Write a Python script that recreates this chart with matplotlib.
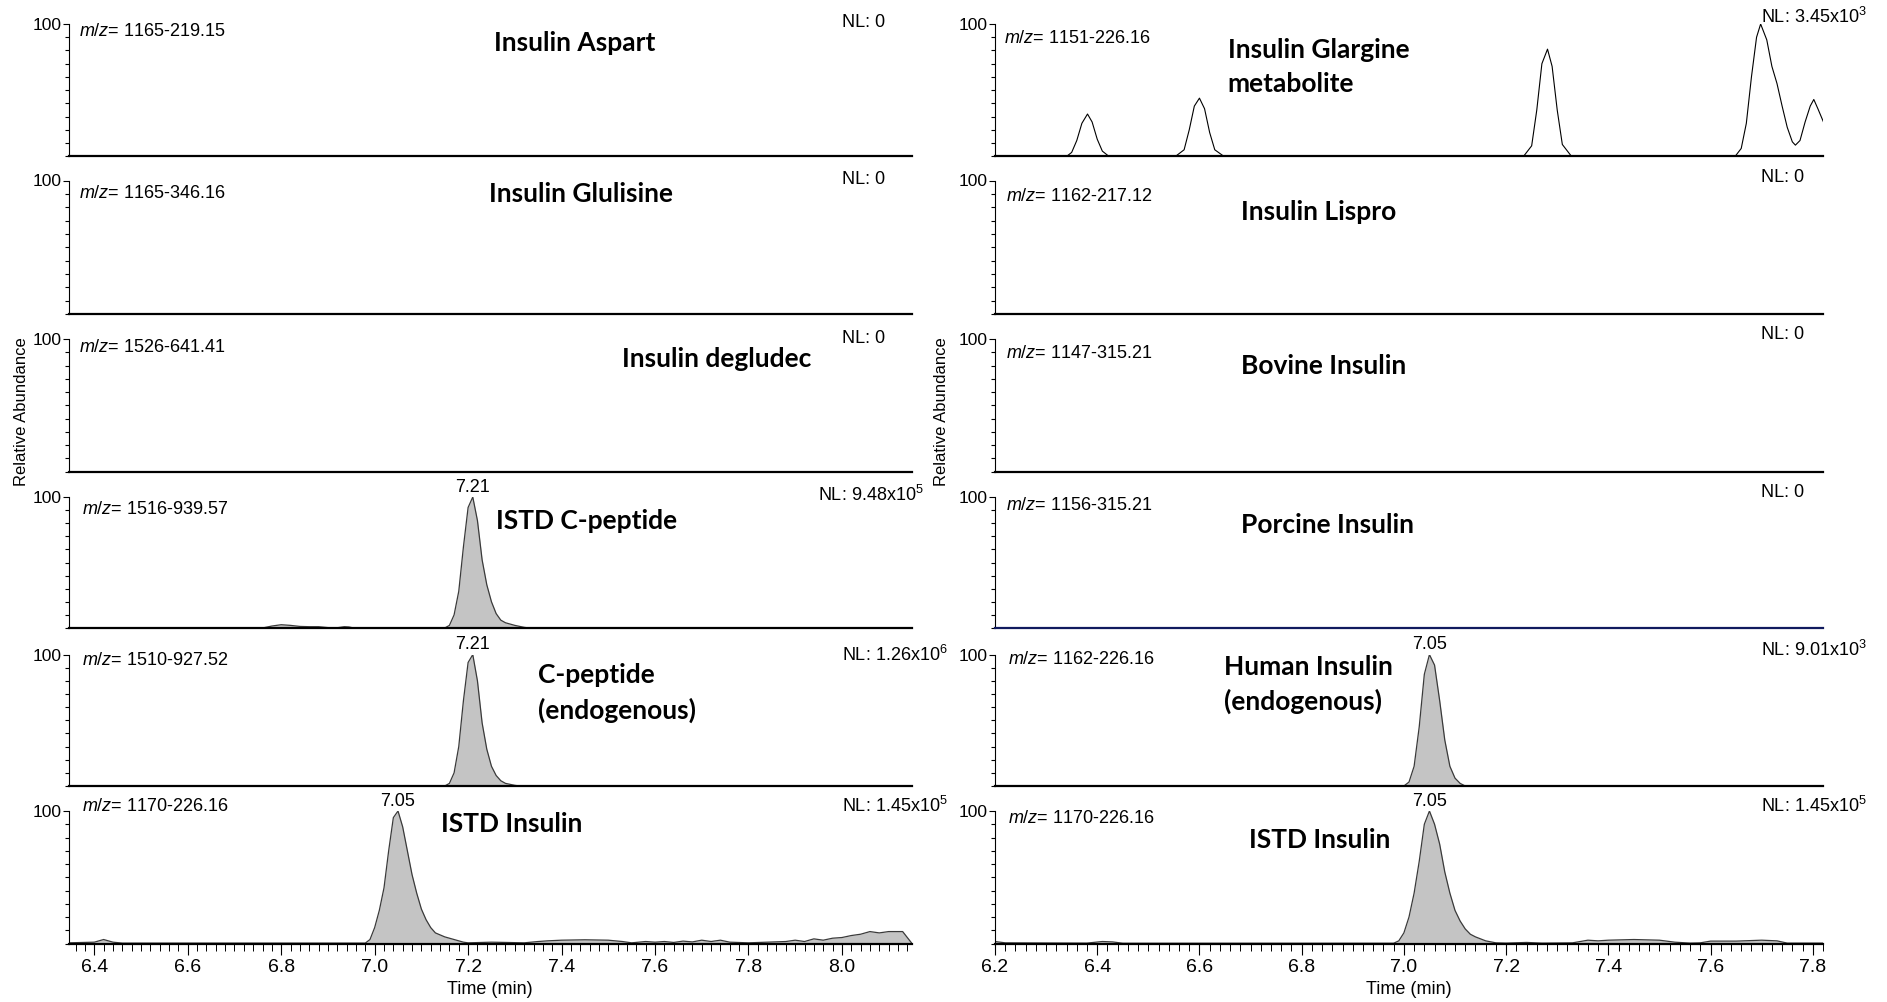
import matplotlib
matplotlib.use("Agg")
import matplotlib.pyplot as plt
from matplotlib.ticker import MultipleLocator, FormatStrFormatter, FixedLocator
from matplotlib import font_manager

names = {f.name for f in font_manager.fontManager.ttflist}
NARROW = 'Liberation Sans Narrow' if 'Liberation Sans Narrow' in names else 'Liberation Sans'
BOLD = 'Lato'

plt.rcParams['font.family'] = [NARROW, 'DejaVu Sans']
plt.rcParams['mathtext.fontset'] = 'custom'
plt.rcParams['mathtext.rm'] = NARROW
plt.rcParams['mathtext.it'] = NARROW + ':italic'
plt.rcParams['mathtext.default'] = 'regular'

# ---------------- data ----------------
xlim_left = (6.345, 8.15)
xlim_right = (6.2, 7.82)

mz_left = ["1165-219.15", "1165-346.16", "1526-641.41", "1516-939.57", "1510-927.52", "1170-226.16"]
mz_right = ["1151-226.16", "1162-217.12", "1147-315.21", "1156-315.21", "1162-226.16", "1170-226.16"]
nl_left = ["NL: 0", "NL: 0", "NL: 0", "NL: 9.48x10$^5$", "NL: 1.26x10$^6$", "NL: 1.45x10$^5$"]
nl_right = ["NL: 3.45x10$^3$", "NL: 0", "NL: 0", "NL: 0", "NL: 9.01x10$^3$", "NL: 1.45x10$^5$"]

# Left panel 4: ISTD C-peptide
t_lp4 = [6.345, 6.76, 6.78, 6.80, 6.82, 6.84, 6.86, 6.88, 6.90, 6.92, 6.935, 6.945, 6.955,
         7.15, 7.16, 7.17, 7.18, 7.19, 7.20, 7.21, 7.22, 7.23, 7.24, 7.25, 7.26, 7.27, 7.28,
         7.30, 7.32, 7.33, 8.15]
y_lp4 = [0, 0, 1.5, 2.5, 2.0, 1.2, 1.0, 1.0, 0.3, 0.2, 1.0, 0.8, 0,
         0, 2, 10, 28, 62, 92, 100, 82, 52, 33, 20, 11, 6, 4,
         2, 0.5, 0, 0]
# Left panel 5: C-peptide (endogenous)
t_lp5 = [6.345, 7.15, 7.16, 7.17, 7.18, 7.19, 7.20, 7.21, 7.22, 7.23, 7.24, 7.25, 7.26,
         7.27, 7.28, 7.30, 7.31, 8.15]
y_lp5 = [0, 0, 2, 10, 30, 65, 94, 100, 80, 48, 28, 15, 8,
         4, 2, 0.5, 0, 0]
# Left panel 6: ISTD Insulin
t_lp6 = [6.345, 6.40, 6.42, 6.44, 6.46, 6.98, 6.99, 7.00, 7.01, 7.02, 7.03, 7.04, 7.05,
         7.06, 7.07, 7.08, 7.09, 7.10, 7.11, 7.12, 7.13, 7.15, 7.17, 7.19, 7.20, 7.25,
         7.28, 7.32, 7.35, 7.37, 7.40, 7.45, 7.50, 7.53, 7.55, 7.58, 7.60, 7.62, 7.64,
         7.66, 7.68, 7.70, 7.72, 7.74, 7.76, 7.80, 7.84, 7.88, 7.90, 7.92, 7.94, 7.96,
         7.98, 8.00, 8.02, 8.04, 8.06, 8.08, 8.10, 8.13, 8.15]
y_lp6 = [0.5, 1.0, 3.0, 1.0, 0.3, 0.3, 3, 12, 25, 42, 70, 95, 100,
         88, 70, 52, 38, 26, 18, 12, 8, 5, 3, 1, 0.5, 1.0,
         0.8, 0.5, 1.5, 2.0, 2.5, 2.8, 2.5, 1.5, 0.5, 1.5, 1.0, 1.5, 0.8,
         1.8, 1.2, 2.5, 1.5, 2.5, 1.0, 0.5, 1.0, 1.5, 2.5, 1.5, 3.5, 2.5,
         4.0, 4.5, 6.0, 7.0, 9.0, 8.0, 9.0, 9.0, 0]

# Right panel 1: Insulin Glargine metabolite (line only)
t_rp1 = [6.2, 6.34, 6.35, 6.36, 6.37, 6.381, 6.39, 6.40, 6.41, 6.423,
         6.553, 6.57, 6.58, 6.59, 6.60, 6.61, 6.62, 6.63, 6.648,
         7.234, 7.25, 7.26, 7.27, 7.281, 7.29, 7.30, 7.31, 7.328,
         7.648, 7.66, 7.67, 7.68, 7.69, 7.698, 7.71, 7.72, 7.73, 7.74, 7.75, 7.76,
         7.766, 7.775, 7.785, 7.795, 7.802, 7.81, 7.822]
y_rp1 = [0, 0, 3, 12, 25, 32, 26, 13, 4, 0,
         0, 5, 20, 38, 44, 36, 18, 5, 0,
         0, 8, 35, 70, 81, 68, 35, 9, 0,
         0, 6, 25, 60, 90, 100, 88, 68, 55, 38, 22, 11,
         8.5, 12, 26, 38, 43, 36, 25]
# Right panel 5: Human Insulin (endogenous)
t_rp5 = [6.2, 7.00, 7.01, 7.02, 7.03, 7.04, 7.05, 7.06, 7.07, 7.08, 7.09, 7.10, 7.11, 7.12, 7.82]
y_rp5 = [0, 0, 3, 15, 45, 85, 100, 92, 65, 35, 15, 6, 2, 0, 0]
# Right panel 6: ISTD Insulin
t_rp6 = [6.2, 6.22, 6.38, 6.41, 6.43, 6.45, 6.98, 6.99, 7.00, 7.01, 7.02, 7.03, 7.04, 7.05,
         7.06, 7.07, 7.08, 7.09, 7.10, 7.11, 7.12, 7.13, 7.14, 7.16, 7.18, 7.20, 7.24,
         7.27, 7.33, 7.36, 7.38, 7.40, 7.45, 7.50, 7.53, 7.56, 7.58, 7.60, 7.65, 7.70,
         7.73, 7.75, 7.82]
y_rp6 = [1.5, 0.5, 0.3, 1.5, 1.2, 0.2, 0.2, 2, 8, 20, 38, 62, 90, 100,
         90, 75, 54, 38, 25, 17, 11, 7, 5, 2, 0.5, 0.3, 0.8,
         0.3, 0.5, 2.5, 2.0, 2.5, 3.0, 2.5, 1.0, 0.3, 0.5, 1.8, 1.8, 2.5,
         2.0, 0.3, 0.3]

# ---------------- layout ----------------
W, H = 1887, 1002
fig = plt.figure(figsize=(W / 100, H / 100), dpi=100)

tops = [24, 180.5, 339, 497, 654.6, 811]
bots = [156.4, 314, 471.7, 628, 786, 943.5]
cols = [(68.6, 912), (995, 1823)]

def px(x, y):
    return x / W, 1 - y / H

axes = [[None] * 6 for _ in range(2)]
for c, (x0, x1) in enumerate(cols):
    for r in range(6):
        ax = fig.add_axes([x0 / W, 1 - bots[r] / H, (x1 - x0) / W, (bots[r] - tops[r]) / H])
        ax.set_ylim(0, 100)
        ax.set_xlim(*(xlim_left if c == 0 else xlim_right))
        for s in ('top', 'right'):
            ax.spines[s].set_visible(False)
        ax.spines['left'].set_linewidth(0.8)
        ax.spines['bottom'].set_linewidth(1.6)
        ax.set_yticks([100])
        ax.set_yticklabels(['100'])
        ax.yaxis.set_minor_locator(FixedLocator([0, 10, 20, 30, 40, 50, 60, 70, 80, 90]))
        ax.tick_params(axis='y', which='major', length=4, width=0.8, pad=1, labelsize=12.5)
        ax.tick_params(axis='y', which='minor', length=3, width=0.8)
        if r < 5:
            ax.set_xticks([])
        else:
            ax.xaxis.set_major_locator(MultipleLocator(0.2))
            ax.xaxis.set_minor_locator(MultipleLocator(0.02))
            ax.xaxis.set_major_formatter(FormatStrFormatter('%.1f'))
            ax.tick_params(axis='x', which='major', length=8, width=0.8, labelsize=14, pad=3)
            ax.tick_params(axis='x', which='minor', length=5, width=0.7)
            ax.set_xlabel('Time (min)', fontsize=13, labelpad=4)
        axes[c][r] = ax

GRAY = '#c4c4c4'
EDGE = '#3a3a3a'

def filled(ax, t, y):
    ax.fill_between(t, 0, y, color=GRAY, lw=0)
    ax.plot(t, y, color=EDGE, lw=0.9)

filled(axes[0][3], t_lp4, y_lp4)
filled(axes[0][4], t_lp5, y_lp5)
filled(axes[0][5], t_lp6, y_lp6)
axes[1][0].plot(t_rp1, y_rp1, color='black', lw=0.8)
filled(axes[1][4], t_rp5, y_rp5)
filled(axes[1][5], t_rp6, y_rp6)
axes[1][3].spines['bottom'].set_color('#101a5e')

# peak apex labels
for ax, xt in [(axes[0][3], 7.21), (axes[0][4], 7.21), (axes[0][5], 7.05),
               (axes[1][4], 7.05), (axes[1][5], 7.05)]:
    ax.text(xt, 101, f'{xt:.2f}', ha='center', va='bottom', fontsize=13, clip_on=False)

# m/z labels
mz_pos_left = [(79.4, 31.3), (79.4, 193.7), (79.4, 347.8), (81.8, 509), (81.8, 660.7), (81.8, 806.3)]
mz_pos_right = [(1003.6, 38.5), (1006, 196), (1006, 353.8), (1006, 505.4), (1008.5, 659.5), (1008.5, 818.3)]
for lab, (x, y) in zip(mz_left, mz_pos_left):
    fig.text(*px(x, y), r'$\mathit{m/z}$= ' + lab, fontsize=13, ha='left', va='center')
for lab, (x, y) in zip(mz_right, mz_pos_right):
    fig.text(*px(x, y), r'$\mathit{m/z}$= ' + lab, fontsize=13, ha='left', va='center')

# NL labels
nl_pos_left = [(842, 22.9), (842, 179.3), (842, 338.2), (818, 494.6), (842, 654.6), (842, 806.3)]
nl_pos_right = [(1760.6, 16.8), (1760.6, 177), (1760.6, 334.5), (1760.6, 492.2), (1760.6, 649.8), (1760.6, 806.3)]
for lab, (x, y) in zip(nl_left, nl_pos_left):
    fig.text(*px(x, y), lab, fontsize=13, ha='left', va='center')
for lab, (x, y) in zip(nl_right, nl_pos_right):
    fig.text(*px(x, y), lab, fontsize=13, ha='left', va='center')

# compound names
bold_kw = dict(fontsize=19, fontweight='bold', family=[BOLD, 'DejaVu Sans'], va='center')
fig.text(*px(575, 43.3), 'Insulin Aspart', ha='center', **bold_kw)
fig.text(*px(581, 193.7), 'Insulin Glulisine', ha='center', **bold_kw)
fig.text(*px(717, 358.6), 'Insulin degludec', ha='center', **bold_kw)
fig.text(*px(587, 521), 'ISTD C-peptide', ha='center', **bold_kw)
fig.text(*px(538, 675), 'C-peptide', ha='left', **bold_kw)
fig.text(*px(538, 710), '(endogenous)', ha='left', **bold_kw)
fig.text(*px(511.4, 824.3), 'ISTD Insulin', ha='center', **bold_kw)
fig.text(*px(1227.5, 50.5), 'Insulin Glargine', ha='left', **bold_kw)
fig.text(*px(1227.5, 84.2), 'metabolite', ha='left', **bold_kw)
fig.text(*px(1319, 211.8), 'Insulin Lispro', ha='center', **bold_kw)
fig.text(*px(1323.7, 365.8), 'Bovine Insulin', ha='center', **bold_kw)
fig.text(*px(1327.4, 524.7), 'Porcine Insulin', ha='center', **bold_kw)
fig.text(*px(1223.9, 666.7), 'Human Insulin', ha='left', **bold_kw)
fig.text(*px(1223.9, 701.6), '(endogenous)', ha='left', **bold_kw)
fig.text(*px(1320, 840), 'ISTD Insulin', ha='center', **bold_kw)

# Relative Abundance labels
fig.text(*px(21.7, 412), 'Relative Abundance', rotation=90, ha='center', va='center',
         fontsize=12, family=['Liberation Sans', 'DejaVu Sans'])
fig.text(*px(942, 412), 'Relative Abundance', rotation=90, ha='center', va='center',
         fontsize=12, family=['Liberation Sans', 'DejaVu Sans'])

fig.savefig('out.png', dpi=100)
